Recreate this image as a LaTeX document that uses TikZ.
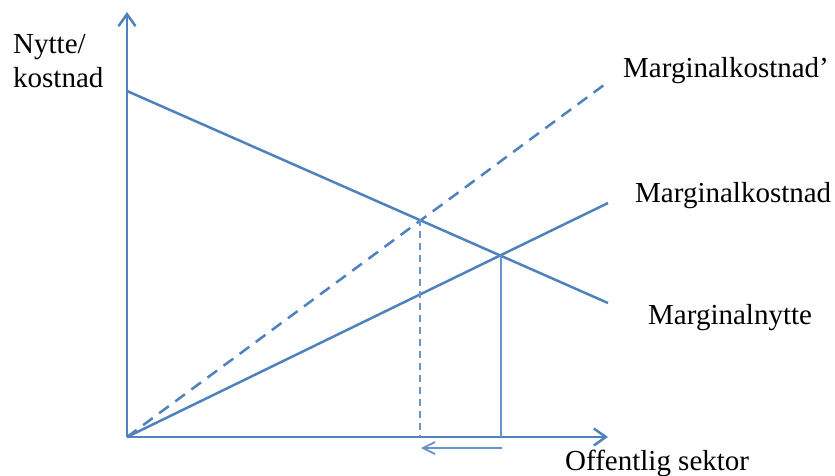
\documentclass[tikz,border=0pt]{standalone}
\usepackage{fontspec}
\setmainfont{Liberation Serif}
\usetikzlibrary{arrows.meta}

\definecolor{chartblue}{RGB}{79,129,189}

\begin{document}
\begin{tikzpicture}[
    x=1pt, y=-1pt,
    axis/.style={
        draw=chartblue,
        line width=2.9pt,
        -{Straight Barb[length=12pt,width=17pt,line width=2.5pt]}
        },
    curve/.style={
        draw=chartblue,
        line width=2.5pt
        },
    dcurve/.style={
        curve,
        dash pattern=on 12pt off 8pt
        },
    guide/.style={
        draw=chartblue!85,
        line width=1.8pt
        },
    dguide/.style={
        guide,
        dash pattern=on 7pt off 5pt
        },
    moveleft/.style={
        draw=chartblue!85,
        line width=1.8pt,
        -{Straight Barb[length=12pt,width=12pt,line width=1.8pt]}
        },
    lbl/.style={
        inner sep=0pt,
        anchor=base west,
        font=\fontsize{29}{34}\selectfont
        },
]
\useasboundingbox (0,0) rectangle (835,475);

% axes
\coordinate (o) at (127,437);
\coordinate (ytop) at (127,12);
\coordinate (xend) at (608,437);
\draw[axis] (o) -- (ytop);
\draw[axis] (o) -- (xend);

% curves
\coordinate (mn0) at (127,91);
\coordinate (mn1) at (608,303);
\coordinate (mk1) at (608,203);
\coordinate (mkp1) at (608,82);
\draw[curve] (mn0) -- (mn1);
\draw[curve] (o) -- (mk1);
\draw[dcurve] (o) -- (mkp1);

% equilibria
\coordinate (e1) at (501,255);
\coordinate (e2) at (420,219);
\coordinate (q1) at (501,437);
\coordinate (q2) at (420,437);
\draw[guide] (e1) -- (q1);
\draw[dguide] (e2) -- (q2);

% shift of output
\coordinate (s1) at (502,448);
\coordinate (s2) at (421,448);
\draw[moveleft] (s1) -- (s2);

% labels
\node[lbl, align=left] (ylbl) at (13,87) {Nytte/\\kostnad};
\node[lbl] (mkplbl) at (623,77) {Marginalkostnad’};
\node[lbl] (mklbl) at (635,202) {Marginalkostnad};
\node[lbl] (mnlbl) at (648,324) {Marginalnytte};
\node[lbl] (xlbl) at (565,470) {Offentlig sektor};

\end{tikzpicture}
\end{document}
